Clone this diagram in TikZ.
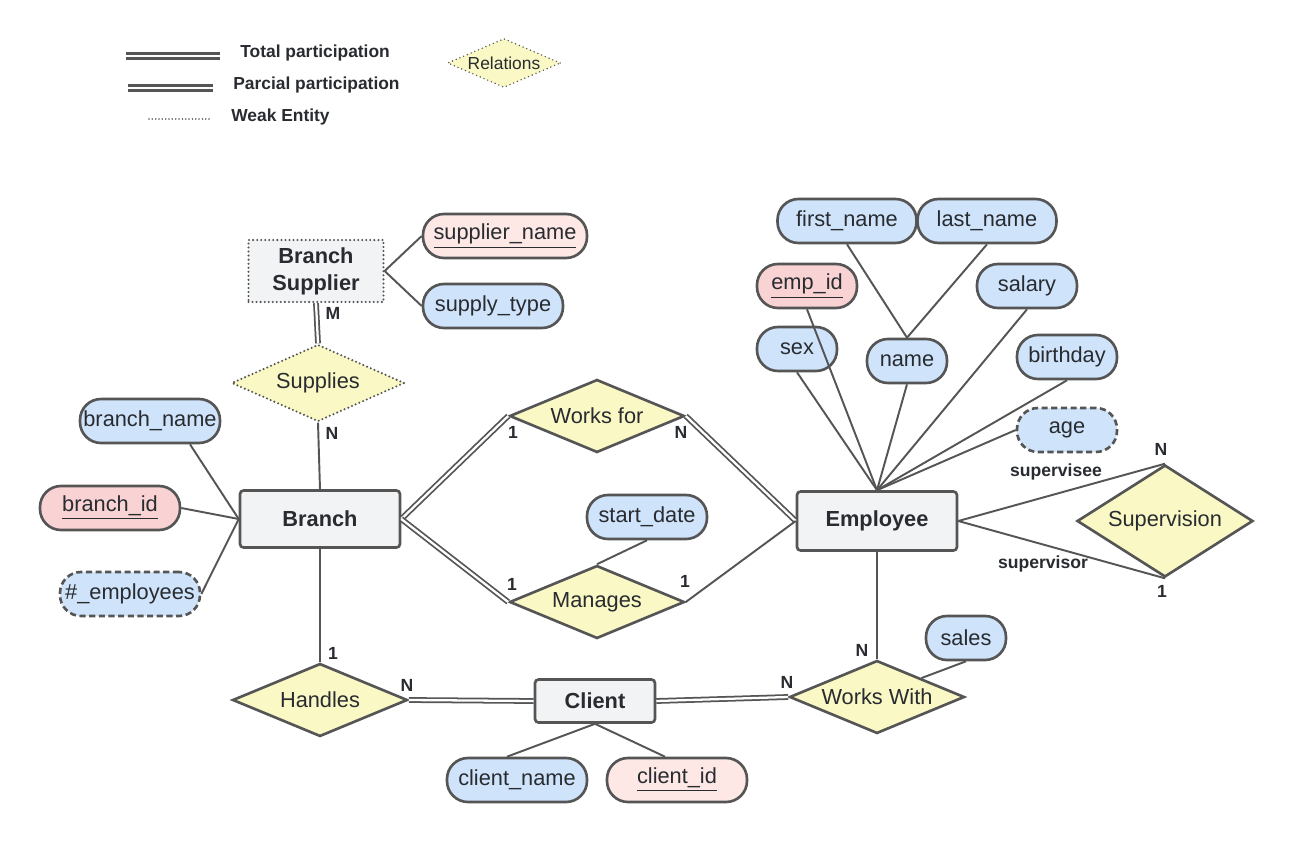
\documentclass[tikz,border=0pt]{standalone}
\usepackage{fontspec}
\setmainfont{Liberation Sans}
\usetikzlibrary{shapes.geometric}
\definecolor{linegray}{HTML}{555555}
\definecolor{ink}{HTML}{282B30}
\definecolor{entfill}{HTML}{F2F3F5}
\definecolor{attfill}{HTML}{CFE4FB}
\definecolor{keyfill}{HTML}{F9D3D3}
\definecolor{keyfilllt}{HTML}{FDE8E5}
\definecolor{relfill}{HTML}{FAF8C5}

\begin{document}
\begin{tikzpicture}[x=0.02cm, y=-0.02cm,
      every node/.style = {text=ink, font=\fontsize{12.4}{15.3}\selectfont},
      entity/.style = {shape=rectangle, rounded corners=2pt, draw=linegray,
        line width=1.5pt, fill=entfill, align=center,
        font=\fontsize{12.4}{15.3}\selectfont\bfseries,
        minimum width=3.2cm, minimum height=1.14cm, inner sep=0pt},
      weakentity/.style = {entity, rounded corners=0pt, line width=1.3pt,
        dash pattern=on 0pt off 2.3pt, line cap=round},
      attr/.style = {shape=rectangle, rounded corners=0.42cm, draw=linegray,
        line width=1.5pt, fill=attfill, minimum height=0.88cm,
        minimum width=2.8cm, inner sep=0pt},
      key/.style = {attr, fill=keyfill},
      keylt/.style = {attr, fill=keyfilllt},
      derived/.style = {attr, dash pattern=on 3.5pt off 2pt},
      rel/.style = {shape=diamond, draw=linegray, line width=1.5pt,
        fill=relfill, aspect=2.4, minimum width=3.5cm,
        minimum height=1.46cm, inner sep=0pt},
      weakrel/.style = {rel, line width=1.3pt, dash pattern=on 0pt off 2.3pt,
        line cap=round},
      card/.style = {font=\fontsize{10}{12}\selectfont\bfseries, inner sep=0pt},
      legend/.style = {anchor=west, font=\fontsize{9.9}{12}\selectfont\bfseries,
        inner sep=0pt},
      link/.style = {draw=linegray, line width=1.1pt},
      total/.style = {draw=linegray, line width=1pt, double=white,
        double distance=1.3pt}]
  \useasboundingbox[fill=white] (0,0) rectangle (1296,842);

  \coordinate (lt1) at (126,56);  \coordinate (lt2) at (220,56);
  \coordinate (lp1) at (128,88);  \coordinate (lp2) at (213,88);
  \coordinate (lw1) at (149,119); \coordinate (lw2) at (211,119);
  \draw[total, line width=1.3pt, double distance=1.4pt] (lt1) -- (lt2);
  \draw[total, line width=1.3pt, double distance=1.4pt] (lp1) -- (lp2);
  \draw[draw=linegray, line width=1pt, dash pattern=on 0pt off 1.9pt,
    line cap=round] (lw1) -- (lw2);
  \node[legend] (ltotal) at (240,53) {Total participation};
  \node[legend] (lparc) at (233,85) {Parcial participation};
  \node[legend] (lweak) at (231,117) {Weak Entity};
  \node[weakrel, minimum width=2.26cm, minimum height=0.98cm, aspect=2.3,
    line width=0.9pt, font=\fontsize{9.9}{12}\selectfont] (lrel)
    at (504,63) {Relations};

  \node[weakentity, minimum width=2.7cm, minimum height=1.24cm] (bsup)
    at (316,271) {Branch\\Supplier};
  \node[keylt, minimum width=3.28cm] (sname) at (505,236) {\underline{supplier\_name}};
  \node[attr] (stype) at (493,306) {supply\_type};
  \node[weakrel, minimum width=3.46cm, minimum height=1.54cm, aspect=2.25]
    (supplies) at (318,383) {Supplies};

  \node[entity] (branch) at (320,519) {Branch};
  \node[attr] (bname) at (150,421) {branch\_name};
  \node[key] (bid) at (110,508) {\underline{branch\_id}};
  \node[derived] (bemp) at (130,594) {\#\_employees};

  \node[rel] (worksfor) at (597,416) {Works for};
  \node[rel] (manages) at (597,602) {Manages};
  \node[attr, minimum width=2.4cm] (sdate) at (647,517) {start\_date};

  \node[entity, minimum height=1.18cm] (employee) at (877,521) {Employee};
  \node[attr, minimum width=2.78cm] (fname) at (847,221) {first\_name};
  \node[attr, minimum width=2.78cm] (lname) at (987,221) {last\_name};
  \node[attr, minimum width=1.6cm] (name) at (907,361) {name};
  \node[key, minimum width=2cm] (eid) at (807,286) {\underline{emp\_id}};
  \node[attr, minimum width=1.6cm] (sex) at (797,349) {sex};
  \node[attr, minimum width=2cm] (salary) at (1027,286) {salary};
  \node[attr, minimum width=2cm] (bday) at (1067,357) {birthday};
  \node[derived, minimum width=2cm] (age) at (1067,430) {age};
  \node[rel, minimum width=3.52cm, minimum height=2.24cm, aspect=1.57]
    (super) at (1165,521) {Supervision};

  \node[rel] (worksw) at (877,697) {Works With};
  \node[attr, minimum width=1.6cm] (sales) at (966,638) {sales};
  \node[entity, minimum width=2.4cm, minimum height=0.86cm] (client)
    at (595,701) {Client};
  \node[rel] (handles) at (320,700) {Handles};
  \node[attr] (cname) at (517,780) {client\_name};
  \node[keylt] (cid) at (677,780) {\underline{client\_id}};

  \node[card] (cm) at (333,313) {M};
  \node[card] (csup) at (332,433) {N};
  \node[card] (cwf1) at (513,432) {1};
  \node[card] (cwfn) at (681,432) {N};
  \node[card] (cma1) at (512,584) {1};
  \node[card] (cma2) at (685,581) {1};
  \node[card] (csvn) at (1161,449) {N};
  \node[card] (csv1) at (1162,591) {1};
  \node[card] (rsvee) at (1056,472) {supervisee};
  \node[card] (rsvor) at (1043,564) {supervisor};
  \node[card] (cww1) at (862,650) {N};
  \node[card] (cww2) at (787,682) {N};
  \node[card] (cha1) at (333,653) {1};
  \node[card] (chan) at (407,685) {N};

  \draw[total] (bsup.south) -- (supplies.north);
  \draw[link] (supplies.south) -- (branch.north);
  \draw[link] (bsup.east) -- (sname.west);
  \draw[link] (bsup.east) -- (stype.west);
  \draw[link] ([xshift=0.8cm]bname.south) -- (branch.west);
  \draw[link] (bid.east) -- (branch.west);
  \draw[link] (bemp.east) -- (branch.west);
  \draw[total] (branch.east) -- (worksfor.west);
  \draw[total] (worksfor.east) -- (employee.west);
  \draw[total] (branch.east) -- (manages.west);
  \draw[link] (manages.east) -- (employee.west);
  \draw[link] (sdate.south) -- (manages.north);
  \foreach \a in {eid, sex, name, salary, bday}
    \draw[link] (\a.south) -- (employee.north);
  \draw[link] (age.west) -- (employee.north);
  \draw[link] (fname.south) -- (name.north);
  \draw[link] (lname.south) -- (name.north);
  \draw[link] (employee.east) -- (super.north);
  \draw[link] (employee.east) -- (super.south);
  \draw[link] (employee.south) -- (worksw.north);
  \draw[link] (sales.south) -- (worksw.north east);
  \draw[total] (client.east) -- (worksw.west);
  \draw[link] (branch.south) -- (handles.north);
  \draw[total] (handles.east) -- (client.west);
  \draw[link] (client.south) -- ([xshift=-0.2cm]cname.north);
  \draw[link] (client.south) -- ([xshift=-0.24cm]cid.north);
\end{tikzpicture}
\end{document}
